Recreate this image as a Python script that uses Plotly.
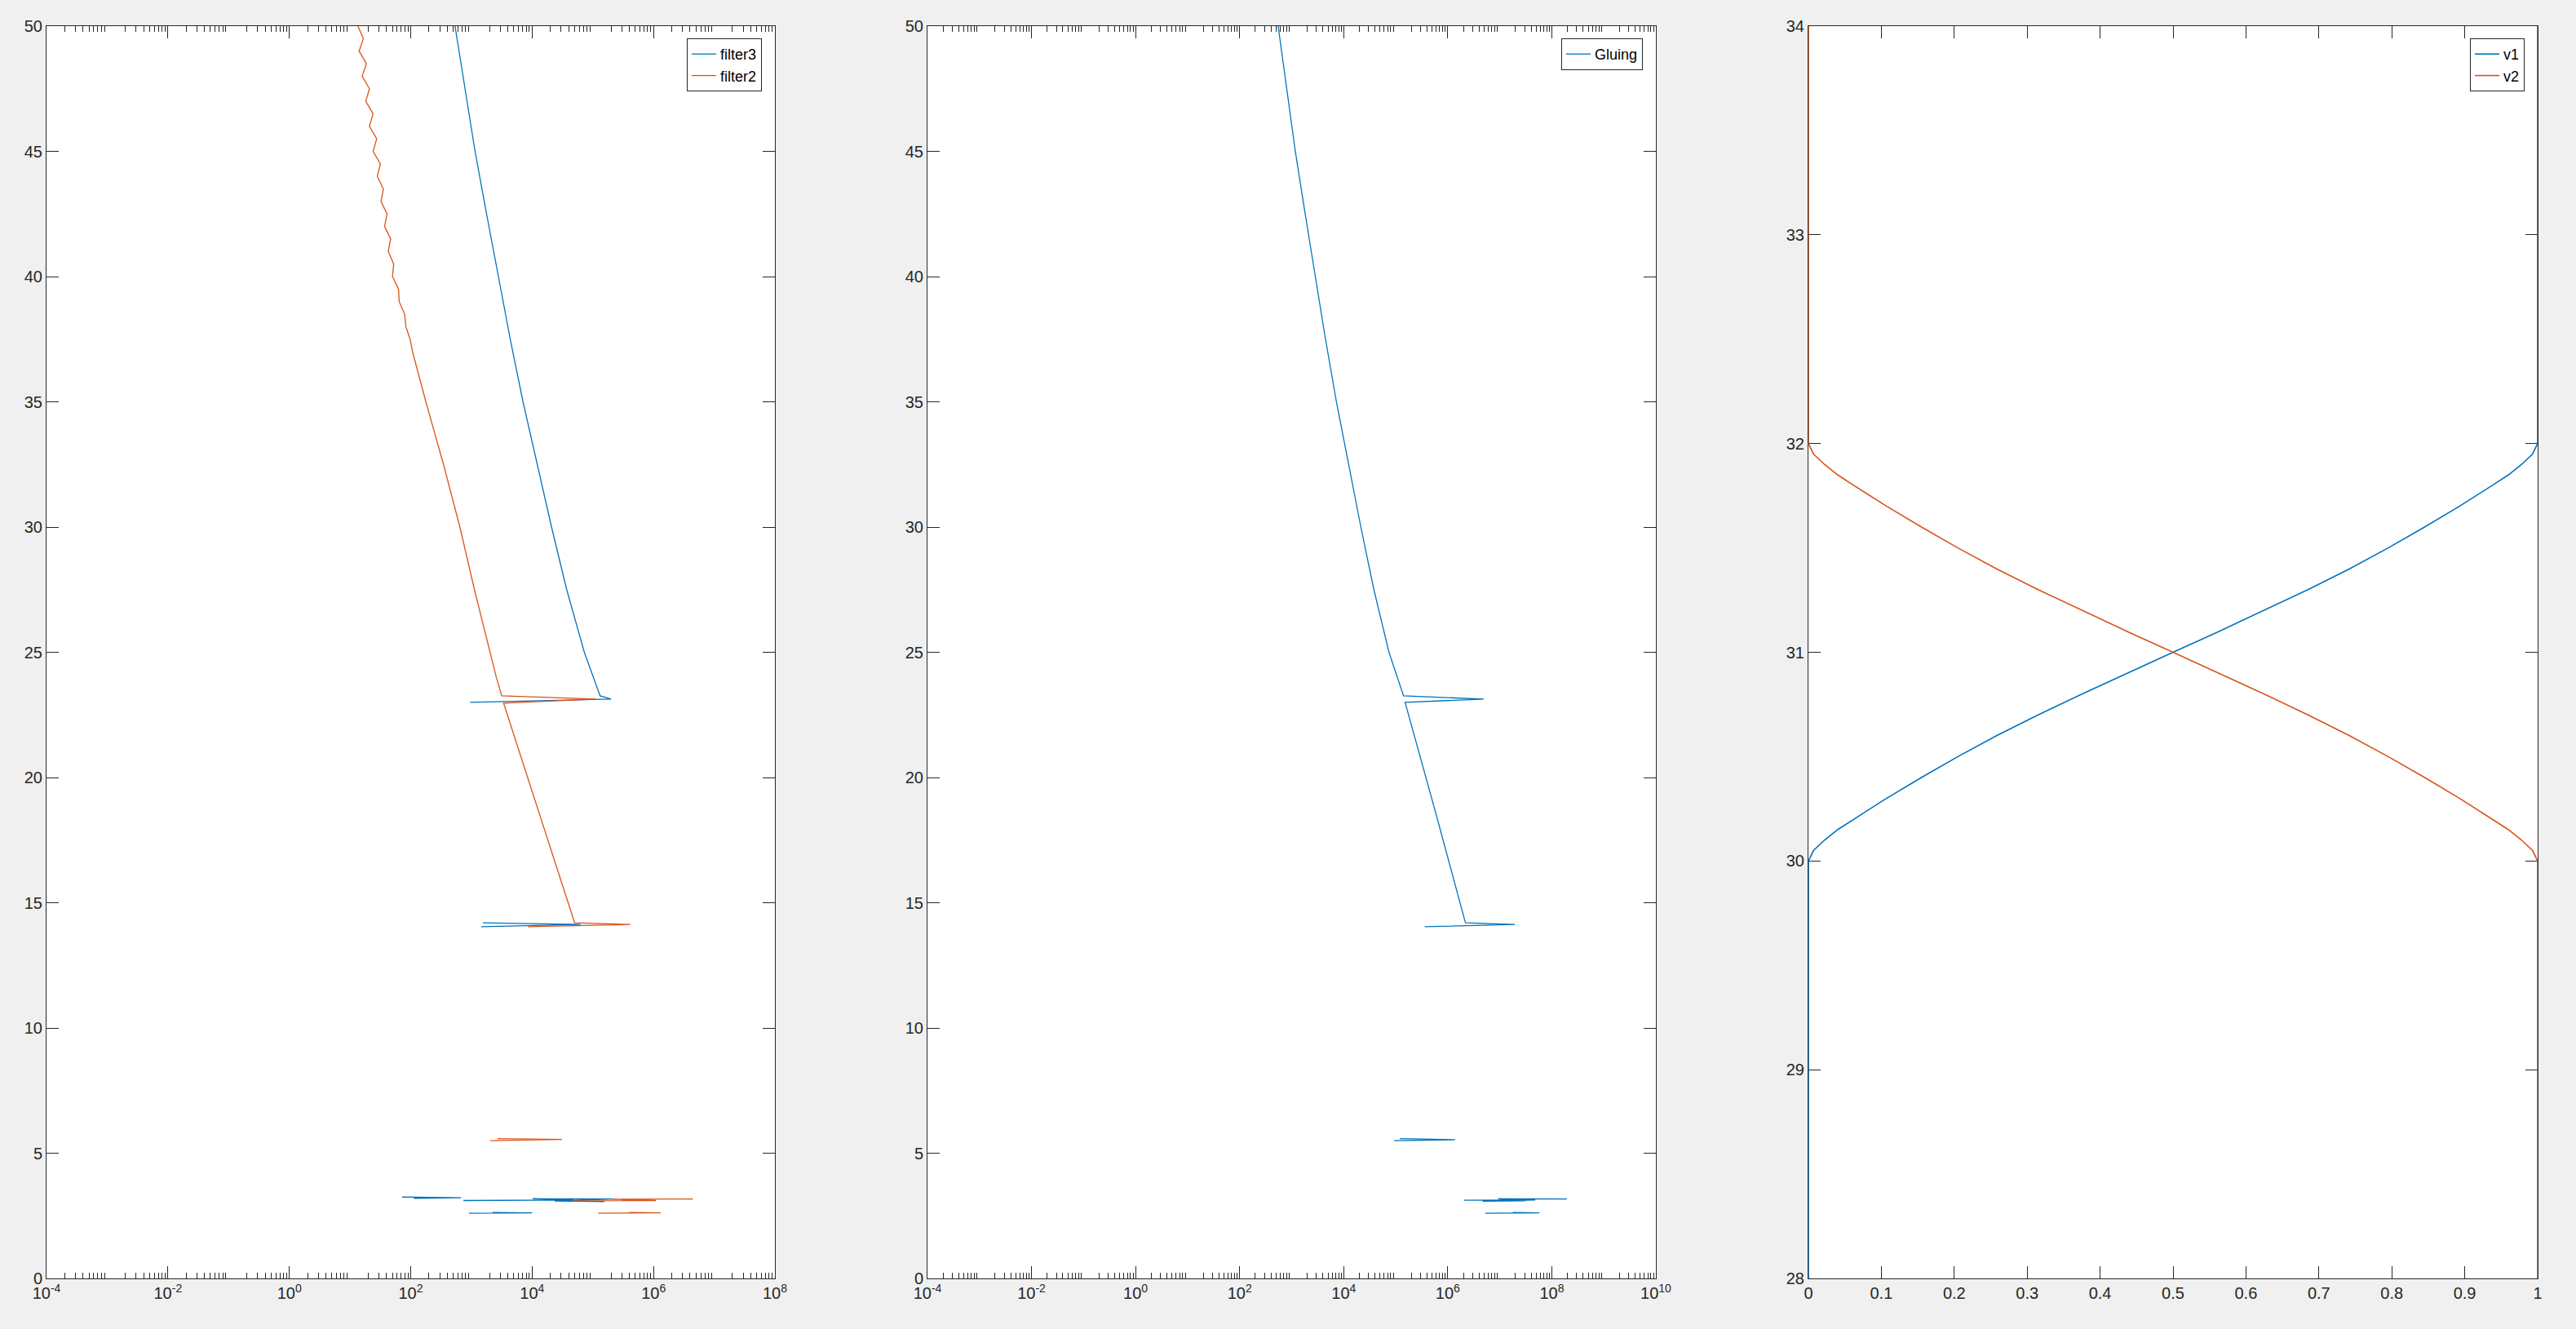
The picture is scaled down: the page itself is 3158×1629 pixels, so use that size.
import plotly.graph_objects as go

# ---------------- data ----------------
# Subplot 1: filter3 (log10 of x) vs y ; None = gap (non-positive values not drawn on log axis)
filter3_y = [50, 47.5, 45, 42.5, 40, 37.5, 35, 32.5, 30, 27.5, 25, 23.26, 23.13, 23.0, None,
             14.2, 14.13, 14.04, None,
             3.25, 3.22, 3.20, None,
             3.11, 3.13, 3.18, 3.17, 3.09, 3.07, None,
             2.60, 2.62, 2.63]
filter3_log10x = [2.73, 2.89, 3.06, 3.25, 3.44, 3.64, 3.85, 4.08, 4.32, 4.57, 4.86, 5.12, 5.30, 2.98, None,
                  3.19, 4.80, 3.16, None,
                  1.86, 2.83, 2.05, None,
                  2.87, 4.68, 4.01, 5.34, 4.37, 5.19, None,
                  2.96, 4.00, 3.35]

filter2_y = [50.0, 49.5, 49.0, 48.5, 48.0, 47.5, 47.0, 46.5, 46.0, 45.5, 45.0, 44.5, 44.0, 43.5,
             43.0, 42.5, 42.0, 41.5, 41.0, 40.5, 40.0, 39.5, 39.0, 38.5, 38.0, 37.5, 37.0,
             35, 32.5, 30, 27.5, 25.6, 24.0, 23.26, 23.13, 22.97, 18.5, 14.2, 14.13, 14.04, None,
             5.58, 5.55, 5.50, None,
             3.10, 3.11, 3.16, 3.17, None,
             2.60, 2.62, 2.63]
filter2_log10x = [1.13, 1.22, 1.15, 1.27, 1.20, 1.32, 1.26, 1.38, 1.32, 1.44, 1.38, 1.50, 1.45, 1.55,
                  1.51, 1.61, 1.57, 1.67, 1.63, 1.72, 1.70, 1.80, 1.81, 1.90, 1.92, 1.99, 2.03,
                  2.25, 2.54, 2.81, 3.05, 3.24, 3.41, 3.50, 5.05, 3.53, 4.13, 4.70, 5.62, 3.93, None,
                  3.43, 4.49, 3.31, None,
                  4.67, 6.04, 5.33, 6.65, None,
                  5.09, 6.12, 5.60]

# Subplot 2: Gluing
gluing_y = [50, 47.5, 45, 42.5, 40, 37.5, 35, 32.5, 30, 27.5, 25, 23.26, 23.13, 23.0, 18.5,
            14.2, 14.13, 14.04, None,
            5.58, 5.54, 5.50, None,
            3.12, 3.13, 3.08, 3.10, 3.18, 3.17, None,
            2.60, 2.62, 2.63]
gluing_log10x = [2.74, 2.90, 3.07, 3.26, 3.45, 3.65, 3.86, 4.09, 4.33, 4.58, 4.87, 5.15, 6.69, 5.18, 5.78,
                 6.34, 7.29, 5.56, None,
                 5.08, 6.14, 4.97, None,
                 6.31, 7.68, 6.67, 7.50, 6.97, 8.29, None,
                 6.72, 7.76, 7.25]

# Subplot 3: v1, v2 vs y
v_y = [28, 30, 30.05, 30.1, 30.15, 30.2, 30.3, 30.4, 30.5, 30.6, 30.7, 30.8, 30.9, 31.0,
       31.1, 31.2, 31.3, 31.4, 31.5, 31.6, 31.7, 31.8, 31.85, 31.9, 31.95, 32.0, 34]
v1 = [0, 0, 0.007, 0.022, 0.040, 0.062, 0.107, 0.155, 0.205, 0.258, 0.315, 0.375, 0.437, 0.50,
      0.563, 0.625, 0.685, 0.742, 0.795, 0.845, 0.893, 0.938, 0.960, 0.978, 0.993, 1, 1]
v2 = [1, 1, 0.993, 0.978, 0.960, 0.938, 0.893, 0.845, 0.795, 0.742, 0.685, 0.625, 0.563, 0.50,
      0.437, 0.375, 0.315, 0.258, 0.205, 0.155, 0.107, 0.062, 0.040, 0.022, 0.007, 0, 0]

# tick labels
log_exp_ax1 = [-4, -2, 0, 2, 4, 6, 8]
log_exp_ax2 = [-4, -2, 0, 2, 4, 6, 8, 10]
y_ticks_12 = [0, 5, 10, 15, 20, 25, 30, 35, 40, 45, 50]
y_ticks_3 = [28, 29, 30, 31, 32, 33, 34]
x_ticks_3 = [0, 0.1, 0.2, 0.3, 0.4, 0.5, 0.6, 0.7, 0.8, 0.9, 1]
x_ticktext_3 = ["0", "0.1", "0.2", "0.3", "0.4", "0.5", "0.6", "0.7", "0.8", "0.9", "1"]

# ---------------- styling ----------------
BLUE = "#0072BD"
ORANGE = "#D95319"
AX = "#262626"
FONT = "Liberation Sans, Arial, Helvetica, sans-serif"
W, H = 3158, 1629


def tolin(vals):
    return [None if v is None else 10 ** v for v in vals]


def minor_vals(lo, hi):
    out = []
    for e in range(lo, hi):
        for m in range(2, 10):
            out.append(m * 10 ** e)
    return out


fig = go.Figure()
fig.add_trace(go.Scatter(x=tolin(filter3_log10x), y=filter3_y, mode="lines", name="filter3",
                         line=dict(color=BLUE, width=1.3), xaxis="x", yaxis="y", legend="legend",
                         connectgaps=False))
fig.add_trace(go.Scatter(x=tolin(filter2_log10x), y=filter2_y, mode="lines", name="filter2",
                         line=dict(color=ORANGE, width=1.3), xaxis="x", yaxis="y", legend="legend",
                         connectgaps=False))
fig.add_trace(go.Scatter(x=tolin(gluing_log10x), y=gluing_y, mode="lines", name="Gluing",
                         line=dict(color=BLUE, width=1.3), xaxis="x2", yaxis="y2", legend="legend2",
                         connectgaps=False))
fig.add_trace(go.Scatter(x=v1, y=v_y, mode="lines", name="v1",
                         line=dict(color=BLUE, width=1.6), xaxis="x3", yaxis="y3", legend="legend3"))
fig.add_trace(go.Scatter(x=v2, y=v_y, mode="lines", name="v2",
                         line=dict(color=ORANGE, width=1.6), xaxis="x3", yaxis="y3", legend="legend3"))

ydom = [(H - 1567) / H, (H - 32) / H]
xdoms = [[57 / W, 950 / W], [1137 / W, 2030 / W], [2217 / W, 3111 / W]]

common = dict(showline=True, linecolor=AX, linewidth=1, mirror="allticks", ticks="inside",
              ticklen=15, tickwidth=1, tickcolor=AX, showgrid=False, zeroline=False,
              automargin=False,
              tickfont=dict(family=FONT, size=20, color=AX))

tick_minor = dict(ticks="inside", ticklen=7, tickwidth=1, tickcolor=AX, showgrid=False)

legend_common = dict(bgcolor="white", bordercolor=AX, borderwidth=1,
                     font=dict(family=FONT, size=18, color="black"),
                     xanchor="right", yanchor="top", tracegroupgap=0)

fig.update_layout(
    template="none",
    width=W, height=H,
    margin=dict(l=0, r=0, t=0, b=0, pad=0),
    paper_bgcolor="#f0f0f0", plot_bgcolor="white",
    showlegend=True,
    xaxis=dict(domain=xdoms[0], type="log", range=[-4, 8], anchor="y",
               tickvals=[10 ** e for e in log_exp_ax1],
               ticktext=[f"10<sup>{e}</sup>" for e in log_exp_ax1],
               minor=dict(tickvals=minor_vals(-4, 8), **tick_minor), **common),
    yaxis=dict(domain=ydom, range=[0, 50], anchor="x", tickvals=y_ticks_12, **common),
    xaxis2=dict(domain=xdoms[1], type="log", range=[-4, 10], anchor="y2",
                tickvals=[10 ** e for e in log_exp_ax2],
                ticktext=[f"10<sup>{e}</sup>" for e in log_exp_ax2],
                minor=dict(tickvals=minor_vals(-4, 10), **tick_minor), **common),
    yaxis2=dict(domain=ydom, range=[0, 50], anchor="x2", tickvals=y_ticks_12, **common),
    xaxis3=dict(domain=xdoms[2], range=[0, 1], anchor="y3", tickvals=x_ticks_3,
                ticktext=x_ticktext_3, layer="below traces", **common),
    yaxis3=dict(domain=ydom, range=[28, 34], anchor="x3", tickvals=y_ticks_3,
                layer="below traces", **common),
    legend=dict(x=934 / W, y=(H - 47) / H, **legend_common),
    legend2=dict(x=2014 / W, y=(H - 47) / H, **legend_common),
    legend3=dict(x=3095 / W, y=(H - 47) / H, **legend_common),
)

fig.write_html(
    "out.html",
    config={"displayModeBar": False},
    post_script="document.body.style.margin='0';document.body.style.background='#f0f0f0';",
)
